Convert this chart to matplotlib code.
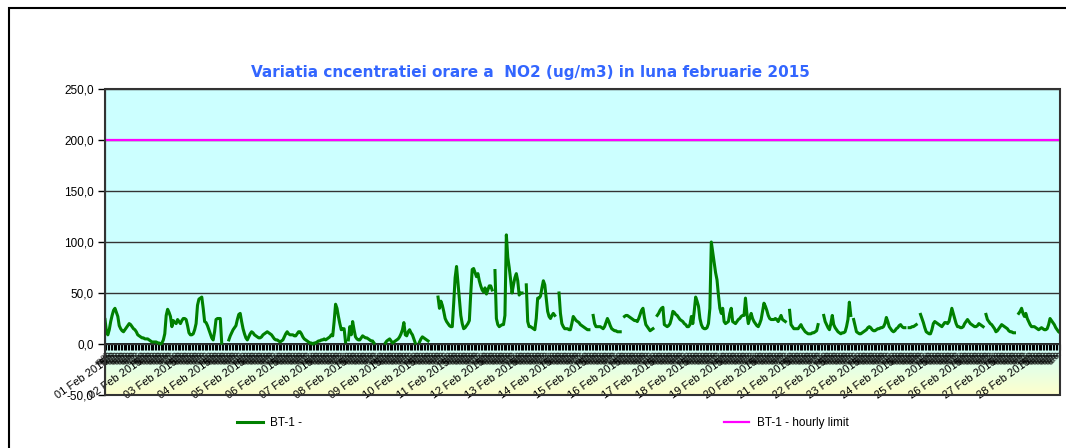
import numpy as np
import matplotlib
matplotlib.use('Agg')
import matplotlib.pyplot as plt
from matplotlib.patches import Rectangle
from matplotlib.colors import LinearSegmentedColormap

# hourly NO2 values (ug/m3), station BT-1, February 2015 (None = missing hour)
feb01 = [24, 12, 9, 14, 22, 28, 33, 35, 31, 27, 18, 15, 13, 12, 14, 16, 18, 20, 19, 17, 15, 14, 12, 9]
feb02 = [8, 7, 6, 6, 5, 5, 5, 4, 3, 2, 2, 2, 2, 1, 1, 0, 1, 4, 10, 28, 34, 31, 27, 17]
feb03 = [23, 21, 20, 24, 22, 20, 23, 25, 25, 24, 18, 11, 9, 9, 10, 14, 20, 38, 44, 45, 46, 35, 22, 21]
feb04 = [18, 14, 10, 6, 4, 12, 24, 25, 25, 25, 1, None, None, None, None, 4, 8, 11, 14, 16, 18, 24, 29, 30]
feb05 = [22, 15, 10, 6, 4, 7, 10, 12, 11, 9, 8, 7, 6, 6, 7, 9, 10, 11, 12, 11, 10, 9, 7, 5]
feb06 = [4, 4, 3, 2, 3, 4, 7, 10, 12, 10, 9, 9, 9, 8, 8, 10, 12, 12, 10, 7, 5, 4, 3, 2]
feb07 = [1, 1, 0, 1, 1, 2, 3, 3, 4, 4, 5, 4, 5, 6, 7, 9, 8, 22, 39, 35, 27, 20, 14, 15]
feb08 = [15, 2, None, 4, 17, 9, 22, 14, 7, 5, 4, 4, 6, 8, 7, 6, 6, 5, 4, 3, 3, 1, None, None]
feb09 = [None, None, None, None, None, 1, 3, 4, 5, 3, 1, 2, 3, 4, 5, 7, 10, 14, 21, 9, 8, 12, 14, 11]
feb10 = [9, 5, 1, None, None, 2, 5, 7, 6, 5, 4, 3, None, None, None, None, None, None, 46, 35, 42, 38, 32, 25]
feb11 = [22, 20, 18, 17, 17, 40, 65, 76, 60, 43, 28, 20, 15, 16, 18, 20, 23, 50, 73, 74, 70, 66, 69, 62]
feb12 = [57, 53, 51, 55, 49, 53, 57, 57, 53, None, 72, 25, 19, 17, 18, 19, 19, 28, 107, 85, 75, 63, 50, 58]
feb13 = [65, 69, 62, 48, 50, 50, None, None, 58, 22, 17, 17, 16, 15, 14, 25, 45, 45, 47, 55, 62, 58, 45, 32]
feb14 = [27, 25, 28, 30, 28, None, None, 50, 30, 20, 17, 15, 15, 15, 14, 14, 20, 27, 25, 23, 22, 21, 19, 18]
feb15 = [17, 16, 15, 14, 14, None, None, 28, 20, 17, 17, 17, 17, 16, 15, 17, 21, 25, 22, 18, 15, 14, 13, 13]
feb16 = [12, 12, 12, None, None, 27, 28, 28, 27, 26, 25, 24, 23, 23, 22, 25, 29, 33, 35, 26, 19, 17, 15, 13]
feb17 = [14, 15, None, None, 28, 30, 33, 35, 36, 19, 18, 17, 18, 20, 25, 32, 31, 29, 28, 26, 24, 23, 22, 20]
feb18 = [19, 17, 17, 19, 27, 20, 32, 46, 42, 37, 25, 19, 16, 15, 15, 16, 20, 35, 100, 90, 80, 70, 63, 48]
feb19 = [35, 30, 35, 22, 20, 21, 22, 30, 35, 22, 21, 20, 22, 24, 25, 27, 28, 28, 45, 30, 20, 25, 30, 25]
feb20 = [22, 20, 18, 17, 20, 24, 32, 40, 37, 33, 28, 25, 24, 24, 24, 25, 24, 22, 25, 28, 24, 23, 22, None]
feb21 = [None, 33, 19, 17, 15, 15, 15, 15, 17, 19, 16, 14, 12, 11, 10, 10, 10, 11, 11, 12, 13, 19, None, None]
feb22 = [None, 28, 22, 19, 16, 14, 20, 28, 19, 16, 14, 12, 11, 10, 11, 11, 12, 17, 24, 41, 28, None, 24, 18]
feb23 = [12, 11, 10, 10, 11, 12, 13, 14, 16, 17, 16, 14, 13, 13, 14, 15, 15, 16, 16, 17, 20, 26, 22, 17]
feb24 = [15, 13, 12, 13, 15, 16, 18, 19, 17, 16, 16, None, None, 16, 16, 17, 17, 18, 19, None, None, 29, 25, 21]
feb25 = [16, 12, 11, 10, 10, 14, 20, 22, 21, 20, 19, 18, 17, 19, 21, 21, 20, 22, 28, 35, 30, 25, 20, 17]
feb26 = [17, 16, 16, 17, 20, 22, 24, 22, 20, 19, 18, 17, 17, 18, 20, 19, 18, 17, None, 29, 24, 22, 20, 19]
feb27 = [17, 15, 12, 13, 15, 17, 19, 18, 17, 16, 15, 13, 12, 12, 11, 11, None, None, 30, 32, 35, 30, 27, 30]
feb28 = [25, 22, 19, 17, 17, 17, 16, 15, 14, 15, 16, 15, 14, 14, 15, 19, 25, 23, 21, 19, 16, 14, 12, 11]

days = [f'{d:02d} Feb 2015' for d in range(1, 29)]
hourly_limit = 200
y_ticks = [-50, 0, 50, 100, 150, 200, 250]

no2 = np.array(feb01 + feb02 + feb03 + feb04 + feb05 + feb06 + feb07 + feb08 + feb09 + feb10 +
               feb11 + feb12 + feb13 + feb14 + feb15 + feb16 + feb17 + feb18 + feb19 + feb20 +
               feb21 + feb22 + feb23 + feb24 + feb25 + feb26 + feb27 + feb28, dtype=float)
hours = np.arange(len(no2))
limit = np.full(len(no2), hourly_limit, dtype=float)

plt.rcParams['font.family'] = ['Liberation Sans', 'DejaVu Sans']

fig = plt.figure(figsize=(10.66, 4.48), dpi=100)
ax = fig.add_axes([105 / 1066, 1 - 395 / 448, 955 / 1066, 306 / 448])

# plot area background: cyan above zero, cyan -> light yellow below
ax.set_facecolor('#ccffff')
cmap = LinearSegmentedColormap.from_list('bg', ['#ffffcc', '#ccffff'])
grad = np.linspace(0, 1, 100).reshape(-1, 1)
ax.imshow(grad, extent=[0, len(no2) - 1, -50, 0], origin='lower', aspect='auto', cmap=cmap, zorder=0)

ax.plot(hours, no2, color='#008000', lw=2.2, label='BT-1 -', zorder=3)
ax.plot(hours, limit, color='#ff00ff', lw=1.6, label='BT-1 - hourly limit', zorder=3)

ax.set_xlim(0, len(no2) - 1)
ax.set_ylim(-50, 250)

ax.set_yticks(y_ticks)
ax.set_yticklabels([f'{v:.1f}'.replace('.', ',') for v in y_ticks], fontsize=8.5)
ax.yaxis.grid(True, color='#333333', lw=1)
ax.set_axisbelow(False)
for gl in ax.get_ygridlines():
    gl.set_zorder(1)
ax.tick_params(axis='y', direction='out', length=5, width=1, pad=3)

# category axis crossing at zero, hourly ticks
ax.spines['bottom'].set_position(('data', 0))
ax.spines['bottom'].set_linewidth(1.2)
ax.spines['top'].set_visible(False)
ax.spines['right'].set_visible(False)
ax.set_xticks(hours[::24], days)
ax.set_xticks(hours, ['00:00'] * len(hours), minor=True)
ax.tick_params(axis='x', which='major', direction='out', length=4, width=0.8, pad=5,
               labelsize=8, labelrotation=35)
ax.tick_params(axis='x', which='minor', direction='out', length=4, width=0.8, pad=1,
               labelsize=4.5, labelrotation=45)
for lab in ax.get_xticklabels() + ax.get_xticklabels(minor=True):
    lab.set_ha('right')
    lab.set_va('top')
    lab.set_rotation_mode('anchor')

ax.add_patch(Rectangle((0, 0), 1, 1, transform=ax.transAxes, fill=False,
                       edgecolor='#333333', lw=1.5, zorder=4, clip_on=False))

fig.text(530 / 1066, 1 - 72 / 448, 'Variatia cncentratiei orare a  NO2 (ug/m3) in luna februarie 2015',
         ha='center', va='center', fontsize=11, fontweight='bold', color='#3366ff',
         family='DejaVu Sans')

fig.legend(loc='center left', bbox_to_anchor=(237 / 1066, 1 - 423 / 448), ncol=2, frameon=False,
           fontsize=8.5, borderpad=0, borderaxespad=0, handlelength=2.2, handletextpad=0.6,
           columnspacing=35.7)

# outer chart border
fig.add_artist(Rectangle((9 / 1066, -0.2), 1.2, 1.2 - 8 / 448, transform=fig.transFigure,
                         fill=False, edgecolor='black', lw=1.5))

fig.savefig('out.png', dpi=100)
